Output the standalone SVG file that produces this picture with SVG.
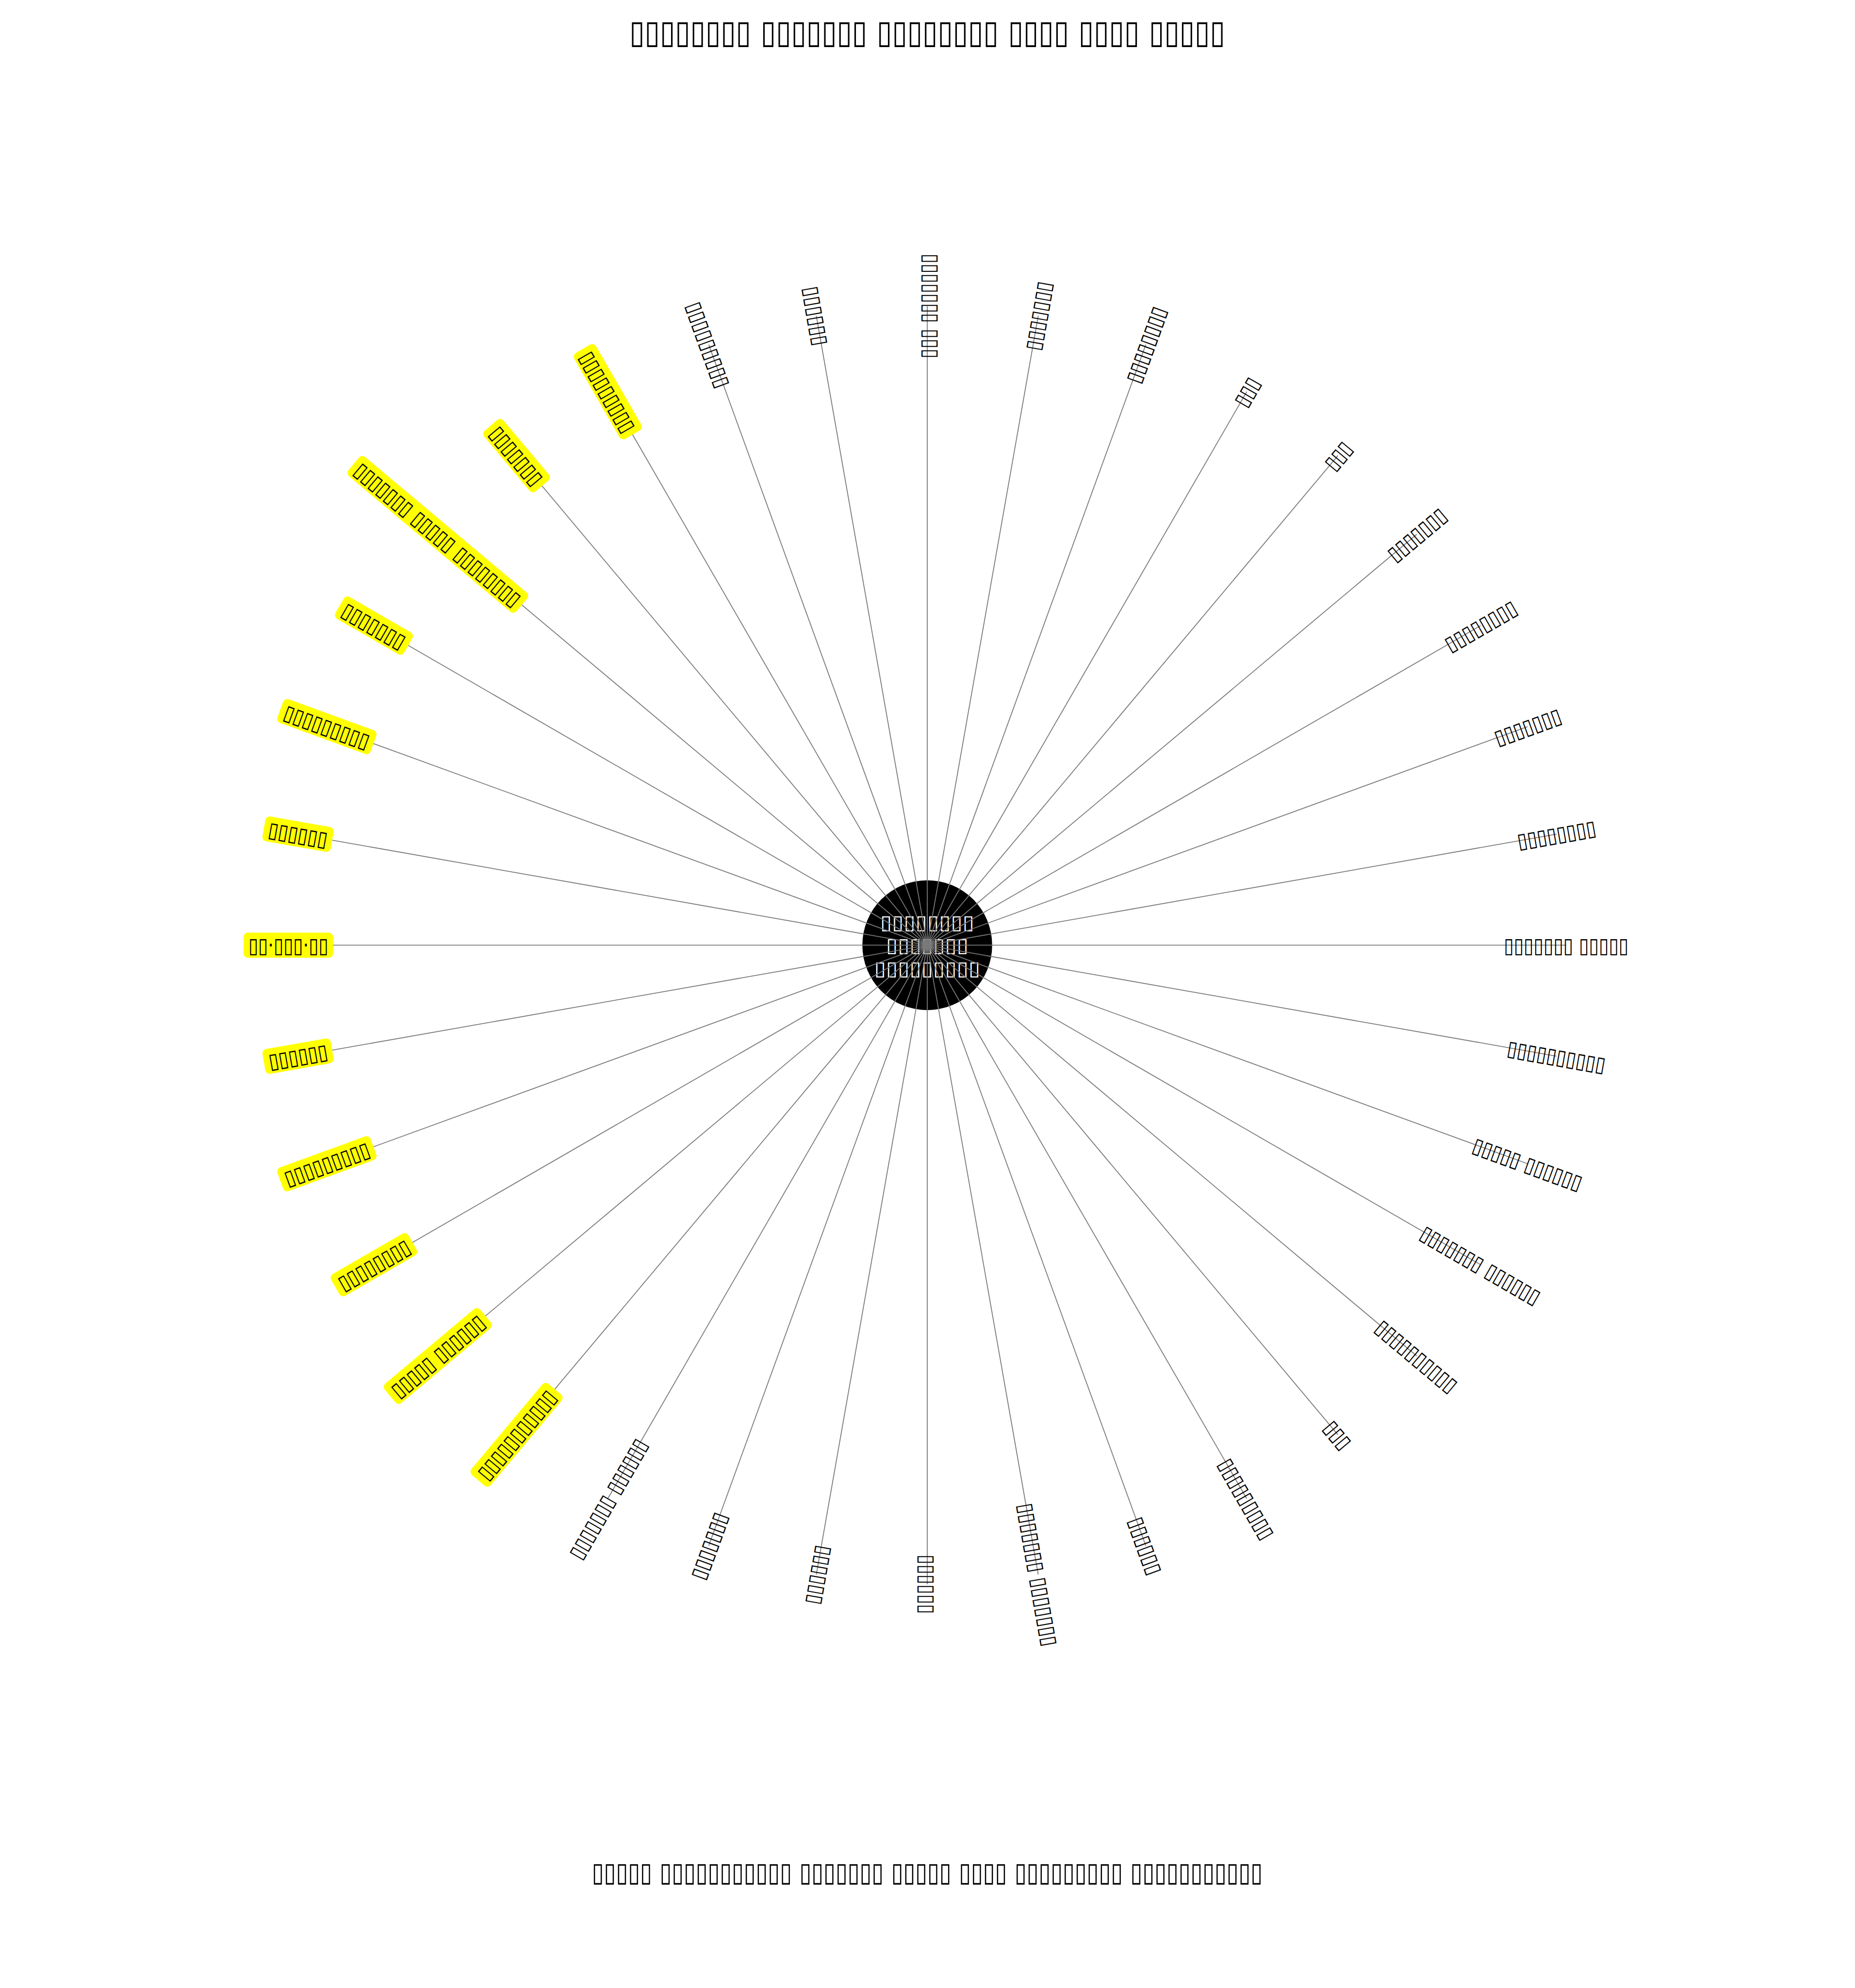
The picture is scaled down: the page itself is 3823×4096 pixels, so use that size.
<svg xmlns="http://www.w3.org/2000/svg" width="3823" height="4096" viewBox="0 0 3823 4096">
<style>
.edge{stroke:#7a7a7a;stroke-width:2;fill:none}
.lbl{font-family:"DejaVu Sans",sans-serif;font-size:48px;fill:#000;text-anchor:middle;dominant-baseline:central}
.hl{fill:#ffff00}
.ctr{font-family:"DejaVu Sans",sans-serif;font-size:44.5px;fill:#fff;text-anchor:middle;dominant-baseline:central}
.ttl{font-family:"DejaVu Sans",sans-serif;font-weight:bold;fill:#000;text-anchor:middle;dominant-baseline:central}
</style>
<rect width="3823" height="4096" fill="#fff"/>
<g transform="scale(0.91)">
<text class="ttl" x="2100" y="72" font-size="74" textLength="1349" lengthAdjust="spacingAndGlyphs">▯▯▯▯▯▯▯▯ ▯▯▯▯▯▯▯ ▯▯▯▯▯▯▯▯ ▯▯▯▯ ▯▯▯▯ ▯▯▯▯▯</text>
<g id="center">
<circle cx="2100" cy="2140" r="147" fill="#000"/>
<text class="ctr" x="2100" y="2088" textLength="213" lengthAdjust="spacingAndGlyphs">▯▯▯▯▯▯▯▯</text>
<text class="ctr" x="2100" y="2140" textLength="187" lengthAdjust="spacingAndGlyphs">▯▯▯▯▯▯▯</text>
<text class="ctr" x="2100" y="2192" textLength="240" lengthAdjust="spacingAndGlyphs">▯▯▯▯▯▯▯▯▯</text>
</g>
<g id="connectors">
<line class="edge" x1="2100" y1="2140" x2="2100" y2="693"/>
<line class="edge" x1="2100" y1="2140" x2="2351.3" y2="715.0"/>
<line class="edge" x1="2100" y1="2140" x2="2594.9" y2="780.3"/>
<line class="edge" x1="2100" y1="2140" x2="2823.5" y2="886.9"/>
<line class="edge" x1="2100" y1="2140" x2="3030.1" y2="1031.5"/>
<line class="edge" x1="2100" y1="2140" x2="3208.5" y2="1209.9"/>
<line class="edge" x1="2100" y1="2140" x2="3353.1" y2="1416.5"/>
<line class="edge" x1="2100" y1="2140" x2="3459.7" y2="1645.1"/>
<line class="edge" x1="2100" y1="2140" x2="3525.0" y2="1888.7"/>
<line class="edge" x1="2100" y1="2140" x2="3547" y2="2140"/>
<line class="edge" x1="2100" y1="2140" x2="3525.0" y2="2391.3"/>
<line class="edge" x1="2100" y1="2140" x2="3459.7" y2="2634.9"/>
<line class="edge" x1="2100" y1="2140" x2="3353.1" y2="2863.5"/>
<line class="edge" x1="2100" y1="2140" x2="3208.5" y2="3070.1"/>
<line class="edge" x1="2100" y1="2140" x2="3030.1" y2="3248.5"/>
<line class="edge" x1="2100" y1="2140" x2="2823.5" y2="3393.1"/>
<line class="edge" x1="2100" y1="2140" x2="2594.9" y2="3499.7"/>
<line class="edge" x1="2100" y1="2140" x2="2351.3" y2="3565.0"/>
<line class="edge" x1="2100" y1="2140" x2="2100" y2="3587"/>
<line class="edge" x1="2100" y1="2140" x2="1848.7" y2="3565.0"/>
<line class="edge" x1="2100" y1="2140" x2="1605.1" y2="3499.7"/>
<line class="edge" x1="2100" y1="2140" x2="1376.5" y2="3393.1"/>
<line class="edge" x1="2100" y1="2140" x2="1169.9" y2="3248.5"/>
<line class="edge" x1="2100" y1="2140" x2="991.5" y2="3070.1"/>
<line class="edge" x1="2100" y1="2140" x2="846.9" y2="2863.5"/>
<line class="edge" x1="2100" y1="2140" x2="740.3" y2="2634.9"/>
<line class="edge" x1="2100" y1="2140" x2="675.0" y2="2391.3"/>
<line class="edge" x1="2100" y1="2140" x2="653" y2="2140"/>
<line class="edge" x1="2100" y1="2140" x2="675.0" y2="1888.7"/>
<line class="edge" x1="2100" y1="2140" x2="740.3" y2="1645.1"/>
<line class="edge" x1="2100" y1="2140" x2="846.9" y2="1416.5"/>
<line class="edge" x1="2100" y1="2140" x2="991.5" y2="1209.9"/>
<line class="edge" x1="2100" y1="2140" x2="1169.9" y2="1031.5"/>
<line class="edge" x1="2100" y1="2140" x2="1376.5" y2="886.9"/>
<line class="edge" x1="2100" y1="2140" x2="1605.1" y2="780.3"/>
<line class="edge" x1="2100" y1="2140" x2="1848.7" y2="715.0"/>
</g>
<g id="n_m90" transform="translate(2100,693) rotate(-90)"><text class="lbl" textLength="237.5" lengthAdjust="spacingAndGlyphs">▯▯▯ ▯▯▯▯▯▯▯</text></g>
<g id="n_m80" transform="translate(2351.3,715.0) rotate(-80)"><text class="lbl" textLength="157.5" lengthAdjust="spacingAndGlyphs">▯▯▯▯▯▯▯</text></g>
<g id="n_m70" transform="translate(2594.9,780.3) rotate(-70)"><text class="lbl" textLength="180" lengthAdjust="spacingAndGlyphs">▯▯▯▯▯▯▯▯</text></g>
<g id="n_m60" transform="translate(2823.5,886.9) rotate(-60)"><text class="lbl" textLength="67.5" lengthAdjust="spacingAndGlyphs">▯▯▯</text></g>
<g id="n_m50" transform="translate(3030.1,1031.5) rotate(-50)"><text class="lbl" textLength="67.5" lengthAdjust="spacingAndGlyphs">▯▯▯</text></g>
<g id="n_m40" transform="translate(3208.5,1209.9) rotate(-40)"><text class="lbl" textLength="157.5" lengthAdjust="spacingAndGlyphs">▯▯▯▯▯▯▯</text></g>
<g id="n_m30" transform="translate(3353.1,1416.5) rotate(-30)"><text class="lbl" textLength="180" lengthAdjust="spacingAndGlyphs">▯▯▯▯▯▯▯▯</text></g>
<g id="n_m20" transform="translate(3459.7,1645.1) rotate(-20)"><text class="lbl" textLength="157.5" lengthAdjust="spacingAndGlyphs">▯▯▯▯▯▯▯</text></g>
<g id="n_m10" transform="translate(3525.0,1888.7) rotate(-10)"><text class="lbl" textLength="180" lengthAdjust="spacingAndGlyphs">▯▯▯▯▯▯▯▯</text></g>
<g id="n_0" transform="translate(3547,2140) rotate(0)"><text class="lbl" textLength="282.5" lengthAdjust="spacingAndGlyphs">▯▯▯▯▯▯▯ ▯▯▯▯▯</text></g>
<g id="n_10" transform="translate(3525.0,2391.3) rotate(10)"><text class="lbl" textLength="225" lengthAdjust="spacingAndGlyphs">▯▯▯▯▯▯▯▯▯▯</text></g>
<g id="n_20" transform="translate(3459.7,2634.9) rotate(20)"><text class="lbl" textLength="260" lengthAdjust="spacingAndGlyphs">▯▯▯▯▯ ▯▯▯▯▯▯</text></g>
<g id="n_30" transform="translate(3353.1,2863.5) rotate(30)"><text class="lbl" textLength="305" lengthAdjust="spacingAndGlyphs">▯▯▯▯▯▯▯ ▯▯▯▯▯▯</text></g>
<g id="n_40" transform="translate(3208.5,3070.1) rotate(40)"><text class="lbl" textLength="225" lengthAdjust="spacingAndGlyphs">▯▯▯▯▯▯▯▯▯▯</text></g>
<g id="n_50" transform="translate(3030.1,3248.5) rotate(50)"><text class="lbl" textLength="67.5" lengthAdjust="spacingAndGlyphs">▯▯▯</text></g>
<g id="n_60" transform="translate(2823.5,3393.1) rotate(60)"><text class="lbl" textLength="202.5" lengthAdjust="spacingAndGlyphs">▯▯▯▯▯▯▯▯▯</text></g>
<g id="n_70" transform="translate(2594.9,3499.7) rotate(70)"><text class="lbl" textLength="135" lengthAdjust="spacingAndGlyphs">▯▯▯▯▯▯</text></g>
<g id="n_80" transform="translate(2351.3,3565.0) rotate(80)"><text class="lbl" textLength="327.5" lengthAdjust="spacingAndGlyphs">▯▯▯▯▯▯▯ ▯▯▯▯▯▯▯</text></g>
<g id="n_90" transform="translate(2100,3587) rotate(90)"><text class="lbl" textLength="135" lengthAdjust="spacingAndGlyphs">▯▯▯▯▯▯</text></g>
<g id="n_100" transform="translate(1848.7,3565.0) rotate(-80)"><text class="lbl" textLength="135" lengthAdjust="spacingAndGlyphs">▯▯▯▯▯▯</text></g>
<g id="n_110" transform="translate(1605.1,3499.7) rotate(-70)"><text class="lbl" textLength="157.5" lengthAdjust="spacingAndGlyphs">▯▯▯▯▯▯▯</text></g>
<g id="n_120" transform="translate(1376.5,3393.1) rotate(-60)"><text class="lbl" textLength="305" lengthAdjust="spacingAndGlyphs">▯▯▯▯▯▯▯ ▯▯▯▯▯▯</text></g>
<g id="n_130" transform="translate(1169.9,3248.5) rotate(-50)"><rect class="hl" x="-134.75" y="-28.5" width="269.5" height="57" rx="10"/><text class="lbl" textLength="247.5" lengthAdjust="spacingAndGlyphs">▯▯▯▯▯▯▯▯▯▯▯</text></g>
<g id="n_140" transform="translate(991.5,3070.1) rotate(-40)"><rect class="hl" x="-141" y="-28.5" width="282" height="57" rx="10"/><text class="lbl" textLength="260" lengthAdjust="spacingAndGlyphs">▯▯▯▯▯ ▯▯▯▯▯▯</text></g>
<g id="n_150" transform="translate(846.9,2863.5) rotate(-30)"><rect class="hl" x="-101" y="-28.5" width="202" height="57" rx="10"/><text class="lbl" textLength="180" lengthAdjust="spacingAndGlyphs">▯▯▯▯▯▯▯▯</text></g>
<g id="n_160" transform="translate(740.3,2634.9) rotate(-20)"><rect class="hl" x="-112.25" y="-28.5" width="224.5" height="57" rx="10"/><text class="lbl" textLength="202.5" lengthAdjust="spacingAndGlyphs">▯▯▯▯▯▯▯▯▯</text></g>
<g id="n_170" transform="translate(675.0,2391.3) rotate(-10)"><rect class="hl" x="-78.5" y="-28.5" width="157" height="57" rx="10"/><text class="lbl" textLength="135" lengthAdjust="spacingAndGlyphs">▯▯▯▯▯▯</text></g>
<g id="n_180" transform="translate(653,2140) rotate(0)"><rect class="hl" x="-101.5" y="-28.5" width="203" height="57" rx="10"/><text class="lbl" textLength="181" lengthAdjust="spacingAndGlyphs">▯▯·▯▯▯·▯▯</text></g>
<g id="n_190" transform="translate(675.0,1888.7) rotate(10)"><rect class="hl" x="-78.5" y="-28.5" width="157" height="57" rx="10"/><text class="lbl" textLength="135" lengthAdjust="spacingAndGlyphs">▯▯▯▯▯▯</text></g>
<g id="n_200" transform="translate(740.3,1645.1) rotate(20)"><rect class="hl" x="-112.25" y="-28.5" width="224.5" height="57" rx="10"/><text class="lbl" textLength="202.5" lengthAdjust="spacingAndGlyphs">▯▯▯▯▯▯▯▯▯</text></g>
<g id="n_210" transform="translate(846.9,1416.5) rotate(30)"><rect class="hl" x="-89.75" y="-28.5" width="179.5" height="57" rx="10"/><text class="lbl" textLength="157.5" lengthAdjust="spacingAndGlyphs">▯▯▯▯▯▯▯</text></g>
<g id="n_220" transform="translate(991.5,1209.9) rotate(40)"><rect class="hl" x="-248.5" y="-28.5" width="497" height="57" rx="10"/><text class="lbl" textLength="475" lengthAdjust="spacingAndGlyphs">▯▯▯▯▯▯▯ ▯▯▯▯▯ ▯▯▯▯▯▯▯▯</text></g>
<g id="n_230" transform="translate(1169.9,1031.5) rotate(50)"><rect class="hl" x="-89.75" y="-28.5" width="179.5" height="57" rx="10"/><text class="lbl" textLength="157.5" lengthAdjust="spacingAndGlyphs">▯▯▯▯▯▯▯</text></g>
<g id="n_240" transform="translate(1376.5,886.9) rotate(60)"><rect class="hl" x="-112.25" y="-28.5" width="224.5" height="57" rx="10"/><text class="lbl" textLength="202.5" lengthAdjust="spacingAndGlyphs">▯▯▯▯▯▯▯▯▯</text></g>
<g id="n_250" transform="translate(1605.1,780.3) rotate(70)"><text class="lbl" textLength="202.5" lengthAdjust="spacingAndGlyphs">▯▯▯▯▯▯▯▯▯</text></g>
<g id="n_260" transform="translate(1848.7,715.0) rotate(80)"><text class="lbl" textLength="135" lengthAdjust="spacingAndGlyphs">▯▯▯▯▯▯</text></g>
<text class="ttl" x="2100" y="4238" font-size="60" textLength="1519" lengthAdjust="spacingAndGlyphs">▯▯▯▯▯ ▯▯▯▯▯▯▯▯▯▯▯ ▯▯▯▯▯▯▯ ▯▯▯▯▯ ▯▯▯▯ ▯▯▯▯▯▯▯▯▯ ▯▯▯▯▯▯▯▯▯▯▯</text>
</g>
</svg>
